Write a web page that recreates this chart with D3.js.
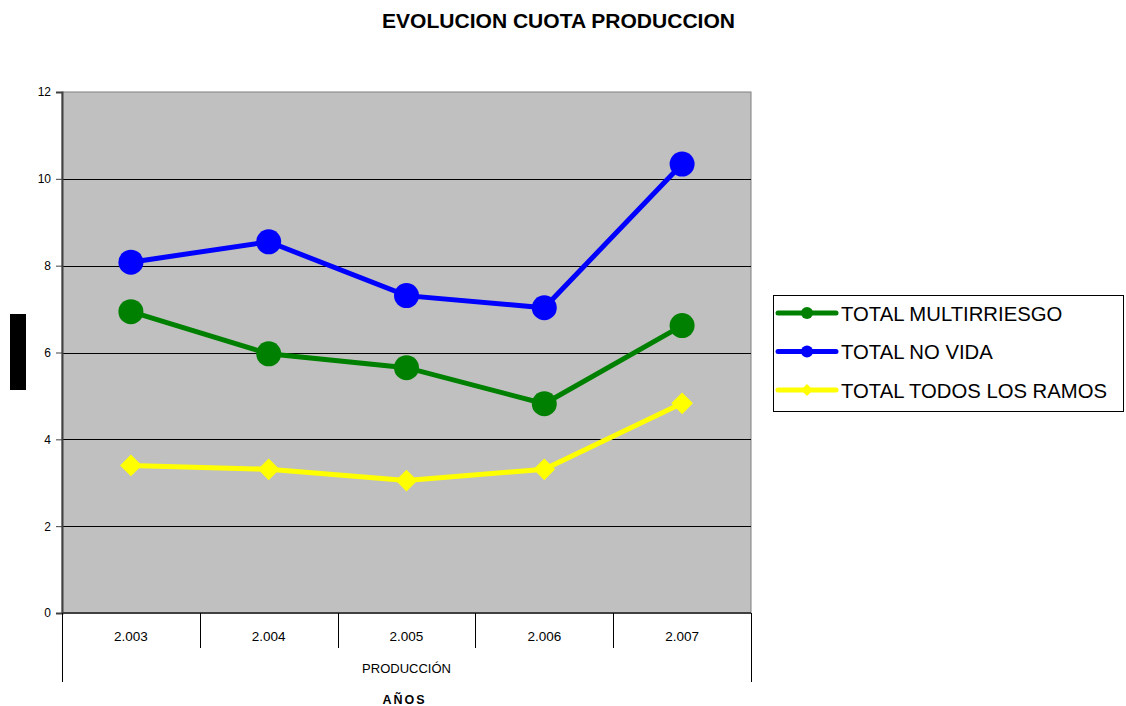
<!DOCTYPE html>
<html>
<head>
<meta charset="utf-8">
<script src="https://cdn.jsdelivr.net/npm/d3@7"></script>
<style>
  body { margin: 0; background: #fff; }
  text { font-family: "Liberation Sans", Arial, sans-serif; }
</style>
</head>
<body>
<div id="chart"></div>
<script>
// Data
const years = ['2.003', '2.004', '2.005', '2.006', '2.007'];
const multirriesgo = [6.94, 5.97, 5.65, 4.82, 6.62];
const noVida = [8.08, 8.55, 7.31, 7.03, 10.34];
const todosRamos = [3.40, 3.31, 3.05, 3.31, 4.83];
const yTicks = [0, 2, 4, 6, 8, 10, 12];

const series = [
  { name: 'TOTAL MULTIRRIESGO', values: multirriesgo, color: '#008000', marker: 'circle' },
  { name: 'TOTAL NO VIDA', values: noVida, color: '#0000ff', marker: 'circle' },
  { name: 'TOTAL TODOS LOS RAMOS', values: todosRamos, color: '#ffff00', marker: 'diamond' }
];

const W = 1126, H = 706;
const margin = { top: 92, right: 375, bottom: 93, left: 62 };
const width = W - margin.left - margin.right;
const height = H - margin.top - margin.bottom;

const svg = d3.select('#chart').append('svg')
  .attr('width', W)
  .attr('height', H);

// Title
svg.append('text')
  .attr('x', 382)
  .attr('y', 28)
  .attr('textLength', 353)
  .attr('lengthAdjust', 'spacingAndGlyphs')
  .style('font-size', '20px')
  .style('font-weight', 'bold')
  .text('EVOLUCION CUOTA PRODUCCION');

// Y axis title placeholder (rendered as a black block in the original)
svg.append('rect')
  .attr('x', 10).attr('y', 314)
  .attr('width', 16).attr('height', 76)
  .attr('fill', '#000');

const g = svg.append('g')
  .attr('transform', `translate(${margin.left},${margin.top})`);

const x = d3.scaleBand().domain(years).range([0, width]);
const y = d3.scaleLinear().domain([0, 12]).range([height, 0]);

// Plot area
g.append('rect')
  .attr('width', width).attr('height', height)
  .attr('fill', '#c0c0c0')
  .attr('stroke', '#808080');

// Gridlines
g.selectAll('.grid')
  .data(yTicks.filter(d => d > 0 && d < 12))
  .enter().append('line')
  .attr('x1', 0).attr('x2', width)
  .attr('y1', d => Math.round(y(d)) + 0.5)
  .attr('y2', d => Math.round(y(d)) + 0.5)
  .attr('stroke', '#000')
  .attr('stroke-width', 1);

// Y axis
const yAxis = g.append('g')
  .call(d3.axisLeft(y).tickValues(yTicks).tickSize(6).tickPadding(5));
yAxis.select('.domain').attr('stroke', '#404040').attr('stroke-width', 2);
yAxis.selectAll('.tick line').attr('stroke', '#404040');
yAxis.selectAll('text').style('font-size', '12px').attr('fill', '#000')
  .style('font-family', '"Liberation Sans", Arial, sans-serif');

// X axis baseline
g.append('line')
  .attr('x1', 0).attr('x2', width)
  .attr('y1', height).attr('y2', height)
  .attr('stroke', '#404040').attr('stroke-width', 2);

// Category separators
const bounds = years.map(d => x(d)).concat([width]);
g.selectAll('.sep')
  .data(bounds)
  .enter().append('line')
  .attr('x1', d => Math.round(d) + 0.5).attr('x2', d => Math.round(d) + 0.5)
  .attr('y1', height)
  .attr('y2', (d, i) => (i === 0 || i === bounds.length - 1) ? height + 69 : height + 35)
  .attr('stroke', '#000');

// X tick labels
g.selectAll('.xlab')
  .data(years)
  .enter().append('text')
  .attr('x', d => x(d) + x.bandwidth() / 2)
  .attr('y', height + 28)
  .attr('text-anchor', 'middle')
  .style('font-size', '13.5px')
  .text(d => d);

g.append('text')
  .attr('x', width / 2)
  .attr('y', height + 60)
  .attr('text-anchor', 'middle')
  .style('font-size', '13px')
  .text('PRODUCCIÓN');

g.append('text')
  .attr('x', width / 2 - 2)
  .attr('y', height + 91)
  .attr('text-anchor', 'middle')
  .style('font-size', '12.5px')
  .style('font-weight', 'bold')
  .style('letter-spacing', '2px')
  .text('AÑOS');

// Lines and markers
const line = d3.line()
  .x((d, i) => x(years[i]) + x.bandwidth() / 2)
  .y(d => y(d));

const diamond = d3.symbol().type(d3.symbolDiamond2).size(300);

series.forEach(s => {
  g.append('path')
    .datum(s.values)
    .attr('d', line)
    .attr('fill', 'none')
    .attr('stroke', s.color)
    .attr('stroke-width', 5);

  const pts = g.selectAll(null)
    .data(s.values)
    .enter();
  if (s.marker === 'circle') {
    pts.append('ellipse')
      .attr('cx', (d, i) => x(years[i]) + x.bandwidth() / 2)
      .attr('cy', d => y(d))
      .attr('rx', 12.5).attr('ry', 12.5)
      .attr('fill', s.color);
  } else {
    pts.append('path')
      .attr('transform', (d, i) => `translate(${x(years[i]) + x.bandwidth() / 2},${y(d)})`)
      .attr('d', diamond)
      .attr('fill', s.color);
  }
});

// Legend
const legend = svg.append('g');
legend.append('rect')
  .attr('x', 773.5).attr('y', 295.5)
  .attr('width', 350).attr('height', 116)
  .attr('fill', '#fff')
  .attr('stroke', '#000');

series.forEach((s, i) => {
  const ly = 313 + i * 38.5;
  legend.append('line')
    .attr('x1', 778).attr('x2', 836)
    .attr('y1', ly).attr('y2', ly)
    .attr('stroke', s.color).attr('stroke-width', 5)
    .attr('stroke-linecap', 'round');
  if (s.marker === 'circle') {
    legend.append('circle')
      .attr('cx', 807).attr('cy', ly).attr('r', 6)
      .attr('fill', s.color);
  } else {
    legend.append('path')
      .attr('transform', `translate(807,${ly})`)
      .attr('d', d3.symbol().type(d3.symbolDiamond2).size(90))
      .attr('fill', s.color);
  }
  legend.append('text')
    .attr('x', 841)
    .attr('y', ly + 7.5)
    .style('font-size', '20.3px')
    .text(s.name);
});
</script>
</body>
</html>
